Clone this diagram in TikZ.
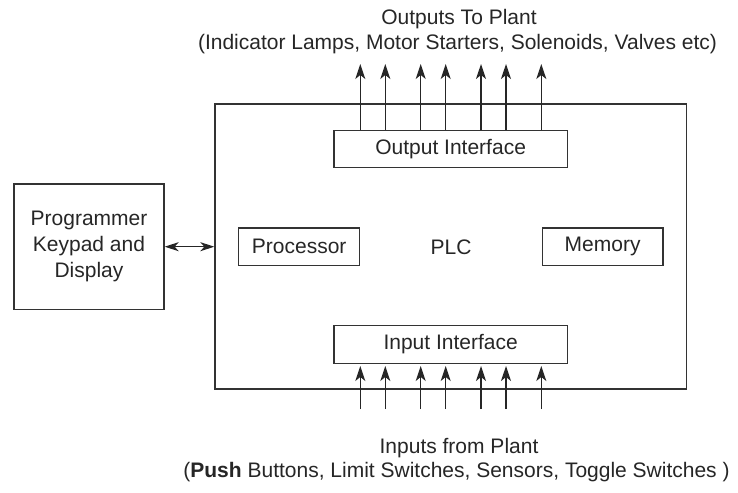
\documentclass[tikz,border=0pt]{standalone}
\usepackage{fontspec}
\setmainfont{Liberation Sans}
\usetikzlibrary{arrows.meta}
\begin{document}
\begin{tikzpicture}[x=1pt,y=-1pt,
  every node/.style={font=\fontsize{21}{26}\selectfont, text=black!85},
  blk/.style={draw=black!80, line width=1.3pt, inner sep=0pt},
  lbl/.style={inner sep=0pt, align=center},
  sig/.style={draw=black!85, line width=1.3pt, -{Stealth[length=15pt,width=10pt,inset=4pt]}},
  bidir/.style={draw=black!85, line width=1.3pt, {Stealth[length=14pt,width=9pt,inset=4pt]}-{Stealth[length=14pt,width=9pt,inset=4pt]}}
]
\useasboundingbox (0,0) rectangle (738,492);
% PLC outer box
\node[blk, minimum width=471.7pt, minimum height=285pt] (plc) at (450.85,246.5) {};
\node[lbl] (plctext) at (451,247) {PLC};
% inner blocks
\node[blk, minimum width=233.3pt, minimum height=37.4pt] (oi) at (450.65,149) {Output Interface};
\node[blk, minimum width=233.3pt, minimum height=37.6pt] (ii) at (450.65,344.5) {Input Interface};
\node[blk, minimum width=121pt, minimum height=37.3pt] (proc) at (299.2,246.7) {Processor};
\node[blk, minimum width=120.7pt, minimum height=37.3pt] (mem) at (602.6,246.7) {Memory};
% programmer
\node[blk, minimum width=150pt, minimum height=125.3pt] (prog) at (89,246.7) {};
\node[lbl] (progtext) at (89,246) {Programmer\\Keypad and\\Display};
\draw[bidir] (prog.east) -- (plc.west |- prog.east);
% labels
\node[lbl] (outl1) at (459,19) {Outputs To Plant};
\node[lbl] (outl2) at (457.5,44) {(Indicator Lamps, Motor Starters, Solenoids, Valves etc)};
\node[lbl] (inl1) at (459,448) {Inputs from Plant};
\node[lbl] (inl2) at (456.5,472) {(\textbf{Push} Buttons, Limit Switches, Sensors, Toggle Switches )};
% signal arrows
\foreach \i/\x in {1/360.3,2/385.3,3/420.7,4/445.7,5/481,6/506,7/541.3}{
  \coordinate (ot\i) at (\x,64);
  \coordinate (ib\i) at (\x,409);
  \coordinate (it\i) at (\x,366);
  \draw[sig] (oi.north -| ot\i) -- (ot\i);
  \draw[sig] (ib\i) -- (it\i);
}
\end{tikzpicture}
\end{document}
